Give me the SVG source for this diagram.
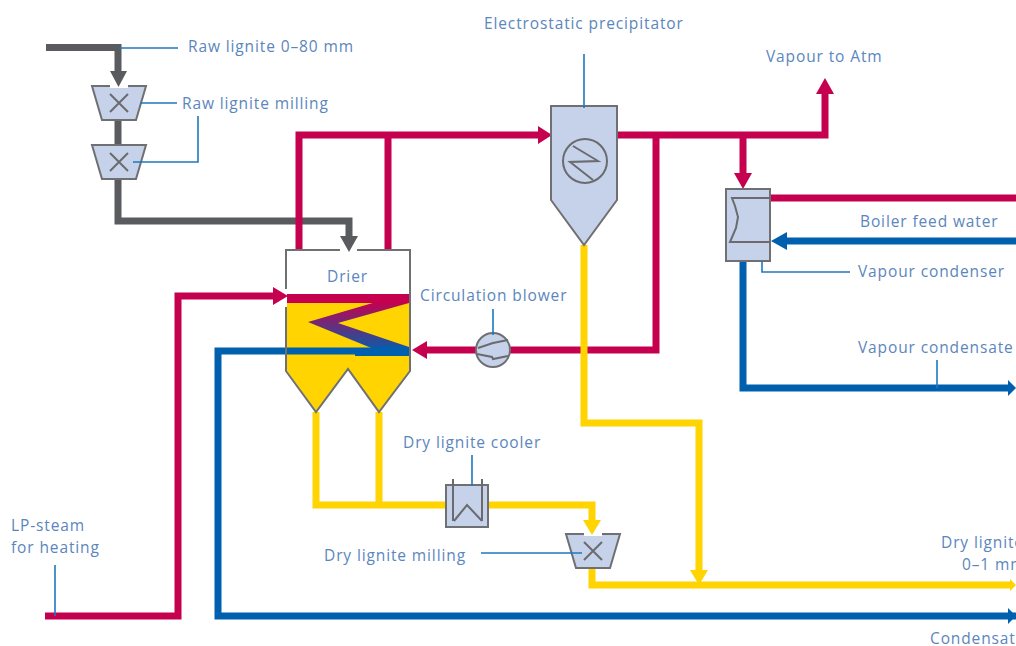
<svg xmlns="http://www.w3.org/2000/svg" width="1016" height="646" viewBox="0 0 1016 646">
<style>
text{font-family:"Open Sans","Liberation Sans",sans-serif;font-size:15.5px;letter-spacing:.88px;fill:#5b86bd}
.p{fill:none;stroke-linejoin:miter}
.g{stroke:#5a5b5e;stroke-width:7}
.r{stroke:#c5004f;stroke-width:7}
.b{stroke:#0060ae;stroke-width:7}
.y{stroke:#ffd400;stroke-width:7}
.l{fill:none;stroke:#1f78bd;stroke-width:1.6}
.u{fill:#c5d2ea;stroke:#6f7073;stroke-width:2}
.k{fill:none;stroke:#6a6b6e;stroke-width:2}
</style>
<defs>
<linearGradient id="zig" x1="0" y1="0" x2="0" y2="1"><stop offset="0" stop-color="#c5004f"/><stop offset="1" stop-color="#0060ae"/></linearGradient>
<g id="mill"><path class="u" d="M-27 0H27L17 34H-17Z"/><path class="k" d="M-9 8L9 26M9 8L-9 26"/></g>
</defs>
<rect width="1016" height="646" fill="#fff"/>
<g id="connectors">
<path class="p g" d="M46 47.500H118V72"/><path class="p g" d="M118 119V146"/><path class="p g" d="M118 178V221H349V238"/>
<path class="p r" d="M299 250V135H540M388 135V250M617 135H825V92M656 135V350H425M743 135V178M770 198H1016M45 616H178V296H275"/>
<path fill="#c5004f" d="M538 126L552 135L538 144ZM816 94L825 78L834 94ZM427 341L412 350L427 359ZM734 173H752L743 189ZM273 287L288 296L273 305Z"/>
<path class="p b" d="M1016 241H785M743 261V388H1008M1016 616H218V351H287"/>
<path fill="#0060ae" d="M787 232L771 241L787 250ZM1008 380L1016 388L1008 396ZM1008 608L1016 616L1008 624Z"/>
<path class="p y" d="M584 245V423H699V572M316 412V505H446M379 412V505M488 505H592V522M592 568V585H1010"/>
<path fill="#ffd400" d="M690 570H708L699 585ZM1010 579L1016 585L1010 591Z"/>
</g>
<g id="drier">
<path fill="#ffd400" d="M287 295H410V371L379 411L348 370L316 411L287 371Z"/>
<rect x="287" y="294" width="122" height="9" fill="#c5004f"/>
<path fill="url(#zig)" d="M376 302H409V303L338 323L409 347V352H381L308 322Z"/>
<path fill="#0060ae" d="M287 347.500H380V347H409V356H355V354.500H287Z"/>
<path fill="none" stroke="#6f7073" stroke-width="2" d="M340 250H286V289M286 307V371L316 412L348 369L379 412L410 371V250H357"/>
<text x="327" y="282">Drier</text>
</g>
<g id="blower">
<circle class="u" cx="493" cy="350" r="17"/>
<path class="k" d="M478 348L493 343L508 340M477 354L492 357L493 359L508 356"/>
</g>
<g id="precipitator">
<path class="u" d="M551 106H617V200L584 245L551 200Z"/>
<circle class="k" cx="585" cy="161" r="22"/>
<path class="k" d="M573 146L598 161L570 162L593 180"/>
</g>
<g id="condenser">
<rect class="u" x="726" y="189" width="44" height="72"/>
<path class="k" d="M770 198H732L735 206L738 217L736 228L730 242H770"/>
</g>
<g id="mill1"><use href="#mill" x="119" y="86"/><rect x="110" y="84" width="18" height="4" fill="#fff"/><path fill="#5a5b5e" d="M110 71H127L118.500 87Z"/></g>
<g id="mill2"><use href="#mill" x="119" y="145"/></g>
<g id="mill3"><use href="#mill" x="593" y="534"/><rect x="584" y="532" width="18" height="4" fill="#fff"/><path fill="#ffd400" d="M583 520H601L592 535Z"/></g>
<g id="cooler">
<rect class="u" x="446" y="485" width="42" height="42"/>
<path class="k" d="M453 479V521M482 479V521M454 521L467 505L482 521"/>
</g>
<path fill="#5a5b5e" d="M340 236H358L349 252Z"/>
<g id="leaders">
<path class="l" d="M119 48H178M140 103H177M198 116V162H133M584 54V108M762 261V272H850M493 309V335M937 360V388M55 565V616M472 455V486M481 553H582"/>
</g>
<g id="labels">
<text x="188" y="52">Raw lignite 0–80 mm</text>
<text x="182" y="109">Raw lignite milling</text>
<text x="484" y="29">Electrostatic precipitator</text>
<text x="766" y="62">Vapour to Atm</text>
<text x="420" y="301">Circulation blower</text>
<text x="860" y="227">Boiler feed water</text>
<text x="858" y="277">Vapour condenser</text>
<text x="858" y="353">Vapour condensate</text>
<text x="403" y="448">Dry lignite cooler</text>
<text x="324" y="561">Dry lignite milling</text>
<text x="11" y="531">LP-steam</text>
<text x="11" y="553">for heating</text>
<text x="941" y="548">Dry lignite</text>
<text x="962" y="570">0–1 mm</text>
<text x="930" y="644">Condensate</text>
</g>
</svg>
